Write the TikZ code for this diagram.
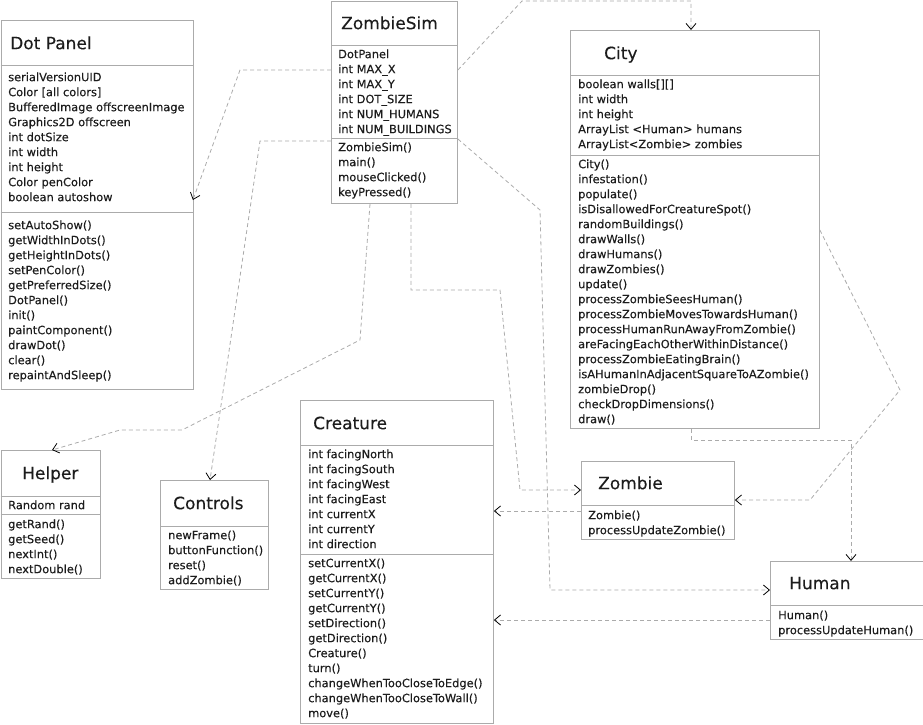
\documentclass[tikz,border=0pt]{standalone}
\usepackage{fontspec}
\setmainfont{DejaVu Sans}[BoldFont=DejaVu Sans, BoldFeatures={FakeBold=0.25}]
\usetikzlibrary{arrows.meta,calc}
\definecolor{boxc}{HTML}{ABABAB}
\definecolor{txtc}{HTML}{1C1C1C}
\definecolor{depc}{HTML}{ABABAB}
\tikzset{
 cls/.style={draw=boxc, line width=0.9pt, rectangle, inner sep=0pt, anchor=north west},
 sepline/.style={draw=boxc, line width=0.9pt},
 mem/.style={anchor=west, inner sep=0pt, text=txtc, font=\fontsize{11.4}{13}\selectfont\bfseries, text height=8.3pt, text depth=0pt},
 ttl/.style={anchor=west, inner sep=0pt, text=txtc, font=\fontsize{17}{20}\selectfont\bfseries, text height=12.4pt, text depth=0pt},
 dep/.style={draw=depc, line width=0.8pt, dash pattern=on 4pt off 3pt, -{Straight Barb[length=6pt,width=10pt,line width=0.8pt,color=black]}},
}
\newcommand\umlmembers[4]{%
  \foreach \t [count=\i] in {#4} \node[mem] (#1\i) at (#2,{#3+15*(\i-1)}) {\t};}
\newcommand\umlsep[2]{\draw[sepline] ($(#1.north west)+(0,#2)$) -- ($(#1.north east)+(0,#2)$);}
\begin{document}
\begin{tikzpicture}[x=1pt,y=-1pt]
\useasboundingbox (0,0) rectangle (923,724);

% ---------- boxes ----------
\node[cls, minimum width=192.5pt, minimum height=369pt] (dotpanel) at (0.5,20) {};
\node[cls, minimum width=126pt, minimum height=202pt] (zombiesim) at (331,1) {};
\node[cls, minimum width=249pt, minimum height=398pt] (city) at (570,30) {};
\node[cls, minimum width=193pt, minimum height=323pt] (creature) at (300,400) {};
\node[cls, minimum width=99.5pt, minimum height=128pt] (helper) at (0.5,450) {};
\node[cls, minimum width=108pt, minimum height=109pt] (controls) at (160,480) {};
\node[cls, minimum width=153pt, minimum height=78pt] (zombie) at (581,461) {};
\node[cls, minimum width=152.5pt, minimum height=78pt] (human) at (770,561) {};

% ---------- dividers ----------
\umlsep{dotpanel}{45}\umlsep{dotpanel}{192}
\umlsep{zombiesim}{44}\umlsep{zombiesim}{137}
\umlsep{city}{45}\umlsep{city}{125}
\umlsep{creature}{45}\umlsep{creature}{154}
\umlsep{helper}{46}\umlsep{helper}{64}
\umlsep{controls}{46}
\umlsep{zombie}{44}
\umlsep{human}{44}

% ---------- titles ----------
\node[ttl] (tdot) at (10,43) {Dot Panel};
\node[ttl] (tzs) at (341,23) {ZombieSim};
\node[ttl] (tcity) at (604,53) {City};
\node[ttl] (tcre) at (313,423) {Creature};
\node[ttl] (thelp) at (22,473) {Helper};
\node[ttl] (tctl) at (173,503) {Controls};
\node[ttl] (tzom) at (598,483) {Zombie};
\node[ttl] (thum) at (789,583) {Human};

% ---------- members ----------
\umlmembers{dpa}{8}{77}{serialVersionUID,Color [all colors],BufferedImage offscreenImage,Graphics2D offscreen,int dotSize,int width,int height,Color penColor,boolean autoshow}
\umlmembers{dpm}{8}{225}{setAutoShow(),getWidthInDots(),getHeightInDots(),setPenColor(),getPreferredSize(),DotPanel(),init(),paintComponent(),drawDot(),clear(),repaintAndSleep()}
\umlmembers{zsa}{338}{54}{DotPanel,int MAX\_X,int MAX\_Y,int DOT\_SIZE,int NUM\_HUMANS,int NUM\_BUILDINGS}
\umlmembers{zsm}{338}{147}{ZombieSim(),main(),mouseClicked(),keyPressed()}
\umlmembers{cia}{578}{84}{boolean walls[][],int width,int height,ArrayList <Human> humans,ArrayList<Zombie> zombies}
\umlmembers{cim}{578}{164}{City(),infestation(),populate(),isDisallowedForCreatureSpot(),randomBuildings(),drawWalls(),drawHumans(),drawZombies(),update(),processZombieSeesHuman(),processZombieMovesTowardsHuman(),processHumanRunAwayFromZombie(),areFacingEachOtherWithinDistance(),processZombieEatingBrain(),isAHumanInAdjacentSquareToAZombie(),zombieDrop(),checkDropDimensions(),draw()}
\umlmembers{cra}{308}{454}{int facingNorth,int facingSouth,int facingWest,int facingEast,int currentX,int currentY,int direction}
\umlmembers{crm}{308}{563}{setCurrentX(),getCurrentX(),setCurrentY(),getCurrentY(),setDirection(),getDirection(),Creature(),turn(),changeWhenTooCloseToEdge(),changeWhenTooCloseToWall(),move()}
\umlmembers{hea}{8}{505}{Random rand}
\umlmembers{hem}{8}{524}{getRand(),getSeed(),nextInt(),nextDouble()}
\umlmembers{ctm}{168}{535}{newFrame(),buttonFunction(),reset(),addZombie()}
\umlmembers{zom}{588}{515}{Zombie(),processUpdateZombie()}
\umlmembers{hum}{778}{615}{Human(),processUpdateHuman()}

% ---------- connectors ----------
\draw[dep] ($(zombiesim.north west)+(0,69)$) -- (240,70) -- ($(dotpanel.north east)+(-1,180)$);
\draw[dep] ($(zombiesim.north east)+(0,69)$) -- (522,1) -- (691,1) -- ($(city.north west)+(121,0)$);
\draw[dep] ($(zombiesim.north west)+(0,140)$) -- (260,141) -- ($(controls.north west)+(50,0)$);
\draw[dep] ($(zombiesim.south west)+(39,0)$) -- (360,340) -- (182,430) -- (120,430) -- ($(helper.north west)+(51.5,0)$);
\draw[dep] ($(zombiesim.south west)+(80,0)$) -- (411,290) -- (500,290) -- (520,490) -- ($(zombie.north west)+(0,29)$);
\draw[dep] ($(zombiesim.north east)+(0,138)$) -- (540,210) -- (550,590) -- ($(human.north west)+(0,29)$);
\draw[dep] ($(zombie.north west)+(0,50)$) -- ($(creature.north east)+(0,111)$);
\draw[dep] ($(human.north west)+(0,59)$) -- ($(creature.north east)+(0,220)$);
\draw[dep] ($(city.north east)+(0,200)$) -- (900,390) -- (810,500) -- ($(zombie.north east)+(0,39)$);
\draw[dep] ($(city.south west)+(121,0)$) -- (691,440) -- (851,440) -- ($(human.north west)+(81,0)$);
\end{tikzpicture}
\end{document}
